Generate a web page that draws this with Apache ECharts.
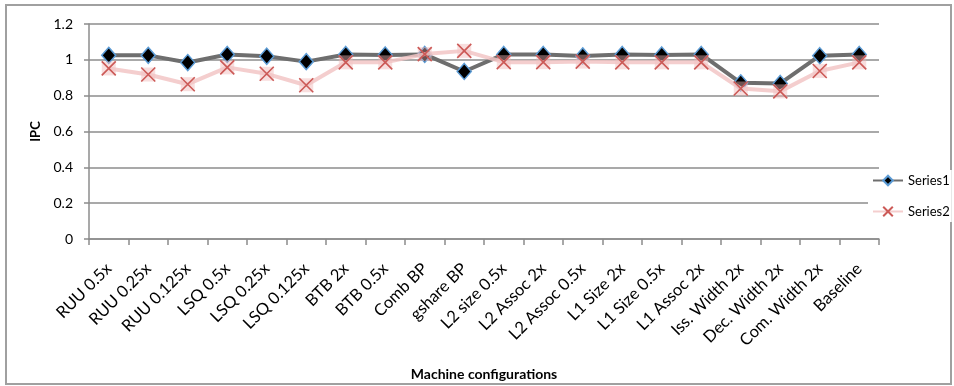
<!DOCTYPE html>
<html>
<head>
<meta charset="utf-8">
<script src="https://cdn.jsdelivr.net/npm/echarts@6/dist/echarts.min.js"></script>
<style>
  html, body { margin: 0; padding: 0; background: #fff; overflow: hidden; }
  #frame { position: absolute; left: 5px; top: 4px; width: 943px; height: 377px; border: 2px solid #a0a0a0; }
  #chart { position: absolute; left: 0; top: 0; width: 954px; height: 386px; }
</style>
</head>
<body>
<div id="frame"></div>
<div id="chart"></div>
<script>
// Machine configurations on the x axis
const categories = [
  'RUU 0.5x', 'RUU 0.25x', 'RUU 0.125x', 'LSQ 0.5x', 'LSQ 0.25x', 'LSQ 0.125x',
  'BTB 2x', 'BTB 0.5x', 'Comb BP', 'gshare BP', 'L2 size 0.5x', 'L2 Assoc 2x',
  'L2 Assoc 0.5x', 'L1 Size 2x', 'L1 Size 0.5x', 'L1 Assoc 2x', 'Iss. Width 2x',
  'Dec. Width 2x', 'Com. Width 2x', 'Baseline'
];

// IPC per configuration
const series1 = [
  1.025, 1.025, 0.985, 1.03, 1.02, 0.99,
  1.03, 1.027, 1.03, 0.935, 1.03, 1.03,
  1.022, 1.03, 1.027, 1.03, 0.872,
  0.868, 1.023, 1.03
];
const series2 = [
  0.952, 0.918, 0.864, 0.958, 0.922, 0.858,
  0.986, 0.986, 1.032, 1.05, 0.987, 0.987,
  0.99, 0.986, 0.986, 0.986, 0.84,
  0.824, 0.938, 0.986
];

// Value axis ticks
const yMin = 0, yMax = 1.2, yStep = 0.2;

const FONT = 'Lato, "Open Sans", sans-serif';
const xMark = 'path://M0,0L10,10M10,0L0,10';

const chart = echarts.init(document.getElementById('chart'), null, { renderer: 'canvas' });
chart.setOption({
  animation: false,
  backgroundColor: 'transparent',
  grid: { left: 89, right: 75, top: 24, bottom: 142, containLabel: false },
  legend: {
    data: ['Series1', 'Series2'],
    orient: 'vertical',
    left: 868,
    top: 170,
    itemGap: 18,
    itemWidth: 30,
    itemHeight: 12,
    backgroundColor: '#fff',
    padding: [4, 2, 4, 4],
    textStyle: { fontFamily: FONT, fontSize: 13, color: '#000' }
  },
  xAxis: {
    type: 'category',
    data: categories,
    boundaryGap: true,
    name: 'Machine configurations',
    nameLocation: 'middle',
    nameGap: 128,
    nameTextStyle: { fontFamily: FONT, fontSize: 14, fontWeight: 'bold', color: '#000' },
    axisLine: { lineStyle: { color: '#8c8c8c', width: 1.5 } },
    axisTick: { show: true, alignWithLabel: false, length: 6, lineStyle: { color: '#8c8c8c', width: 1.5 } },
    axisLabel: { rotate: 45, fontFamily: FONT, fontSize: 16.5, color: '#000', margin: 27, interval: 0 }
  },
  yAxis: {
    type: 'value',
    min: yMin, max: yMax, interval: yStep,
    name: 'IPC',
    nameLocation: 'middle',
    nameRotate: 90,
    nameGap: 45,
    nameTextStyle: { fontFamily: FONT, fontSize: 13, fontWeight: 'bold', color: '#000' },
    axisLine: { show: true, lineStyle: { color: '#8c8c8c', width: 1.5 } },
    axisTick: { show: true, length: 5, lineStyle: { color: '#8c8c8c', width: 1.5 } },
    splitLine: { lineStyle: { color: '#8c8c8c', width: 1.5 } },
    axisLabel: {
      fontFamily: FONT, fontSize: 14, color: '#000', margin: 16,
      formatter: v => String(Math.round(v * 10) / 10)
    }
  },
  series: [
    {
      name: 'Series1',
      type: 'line',
      data: series1,
      z: 2,
      symbol: 'diamond',
      symbolSize: [14, 16],
      lineStyle: { color: '#6e6e6e', width: 4 },
      itemStyle: { color: '#000', borderColor: '#5b9bd5', borderWidth: 1.5 }
    },
    {
      // soft square halo behind each Series2 cross
      name: 'Series2 halo',
      type: 'scatter',
      data: series2,
      z: 3,
      symbol: 'rect',
      symbolSize: 14,
      itemStyle: { color: '#efb6b6', opacity: 0.45 },
      silent: true
    },
    {
      name: 'Series2',
      type: 'line',
      data: series2,
      z: 4,
      symbol: xMark,
      symbolSize: 14,
      lineStyle: { color: '#f2c6c6', width: 4, opacity: 0.85 },
      itemStyle: { color: 'transparent', borderColor: '#cc5a57', borderWidth: 1.6 }
    }
  ]
});
</script>
</body>
</html>
